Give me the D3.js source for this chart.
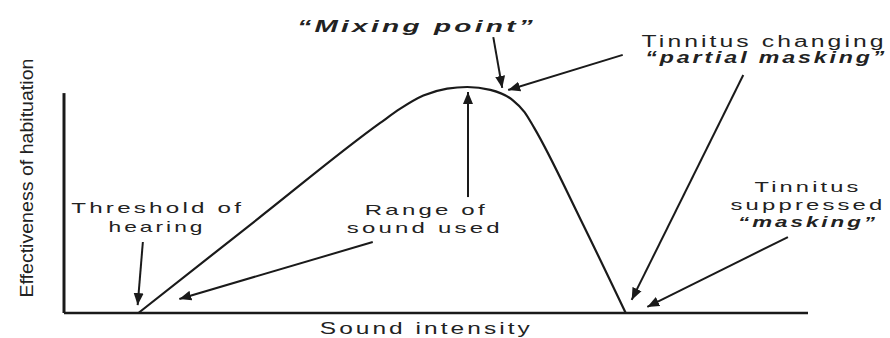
<!DOCTYPE html>
<html>
<head>
<meta charset="utf-8">
<script src="https://cdn.jsdelivr.net/npm/d3@7"></script>
<style>
  body { margin: 0; background: #fff; }
  text { font-family: "Liberation Sans", Arial, sans-serif; fill: #222; }
</style>
</head>
<body>
<script>
// curve: sound intensity vs effectiveness of habituation (arbitrary units 0-100)
var intensity = [10, 26.3, 42.5, 45.2, 48.3, 51.5, 54.2, 57.3, 60.3, 61.9, 63.2, 69.4, 75.5];
var effect    = [0, 42.3, 84.1, 90.4, 96.2, 99.3, 100, 98.7, 94.2, 88.9, 81.9, 41.6, 0];

// annotation arrows, from -> to, in data units
var arrowFrom = [[10.6, 31.4], [41.5, 31.4], [54.3, 51.3], [57.7, 122.1], [75.1, 114.2], [91.3, 105.3], [97.3, 33.6]];
var arrowTo   = [[9.9, 3.5], [15.5, 6.2], [54.3, 97.8], [58.9, 99.6], [59.7, 98.7], [76.3, 5.8], [78.4, 2.7]];

// annotation labels
var labelText = ["\u201cMixing point\u201d", "Tinnitus changing", "\u201cpartial masking\u201d",
                 "Tinnitus", "suppressed", "\u201cmasking\u201d",
                 "Threshold of", "hearing", "Range of", "sound used"];
var labelAt   = [[47.4, 124.3], [94.1, 117.7], [94.4, 110.6],
                 [100, 53.5], [100, 45.6], [100, 38.1],
                 [12.6, 44.2], [12.5, 35.8], [48.7, 43.4], [48.5, 35.4]];
var labelBold = [true, false, true, false, false, true, false, false, false, false];

var xTitle = "Sound intensity";
var yTitle = "Effectiveness of habituation";

var w = 890, h = 338;
var svg = d3.select("body").append("svg")
    .attr("width", w)
    .attr("height", h);

var x = d3.scaleLinear().domain([0, 100]).range([64, 808]);
var y = d3.scaleLinear().domain([0, 100]).range([313, 87]);

var defs = svg.append("defs");
defs.append("marker")
    .attr("id", "head")
    .attr("markerUnits", "userSpaceOnUse")
    .attr("viewBox", "0 -5 12 10")
    .attr("refX", 12).attr("refY", 0)
    .attr("markerWidth", 12).attr("markerHeight", 11)
    .attr("orient", "auto")
    .append("path")
    .attr("d", "M0,-5L12,0L0,5Z")
    .attr("fill", "#1a1a1a");

// axes (plain lines, no ticks)
svg.append("line")
    .attr("x1", x(0)).attr("x2", x(0))
    .attr("y1", y(0)).attr("y2", y(97.3))
    .attr("stroke", "#1a1a1a").attr("stroke-width", 3);
svg.append("line")
    .attr("x1", x(0)).attr("x2", x(100))
    .attr("y1", y(0)).attr("y2", y(0))
    .attr("stroke", "#1a1a1a").attr("stroke-width", 2.5);

var pts = intensity.map(function(d, i) { return [d, effect[i]]; });
var line = d3.line()
    .x(function(d) { return x(d[0]); })
    .y(function(d) { return y(d[1]); })
    .curve(d3.curveMonotoneX);

svg.append("path")
    .attr("d", line(pts))
    .attr("fill", "none")
    .attr("stroke", "#1a1a1a")
    .attr("stroke-width", 2.2);

// arrows
svg.selectAll(".arrow")
    .data(arrowFrom)
    .enter()
    .append("line")
    .attr("class", "arrow")
    .attr("x1", function(d) { return x(d[0]); })
    .attr("y1", function(d) { return y(d[1]); })
    .attr("x2", function(d, i) { return x(arrowTo[i][0]); })
    .attr("y2", function(d, i) { return y(arrowTo[i][1]); })
    .attr("stroke", "#1a1a1a")
    .attr("stroke-width", 2)
    .attr("marker-end", "url(#head)");

// labels; widths
var labelWidth = [239, 245, 242, 107, 155, 140, 173, 97, 123, 156];
var labelSize  = [17, 16, 16, 15, 15, 15, 15, 15, 15, 15];

svg.selectAll(".label")
    .data(labelText)
    .enter()
    .append("text")
    .attr("class", "label")
    .attr("x", function(d, i) { return x(labelAt[i][0]); })
    .attr("y", function(d, i) { return y(labelAt[i][1]); })
    .attr("text-anchor", "middle")
    .attr("font-size", function(d, i) { return labelSize[i] + "px"; })
    .attr("font-weight", function(d, i) { return labelBold[i] ? "bold" : "normal"; })
    .attr("font-style", function(d, i) { return labelBold[i] ? "italic" : "normal"; })
    .attr("textLength", function(d, i) { return labelWidth[i]; })
    .attr("lengthAdjust", "spacingAndGlyphs")
    .style("letter-spacing", "2px")
    .text(function(d) { return d; });

svg.append("text")
    .attr("x", x(48.7))
    .attr("y", y(-9.5))
    .attr("text-anchor", "middle")
    .attr("font-size", "16px")
    .attr("textLength", 213)
    .attr("lengthAdjust", "spacingAndGlyphs")
    .style("letter-spacing", "2px")
    .text(xTitle);

svg.append("text")
    .attr("transform", "translate(33," + y(59.7) + ") rotate(-90)")
    .attr("text-anchor", "middle")
    .attr("font-size", "18px")
    .attr("textLength", 239)
    .attr("lengthAdjust", "spacingAndGlyphs")
    .text(yTitle);
</script>
</body>
</html>
